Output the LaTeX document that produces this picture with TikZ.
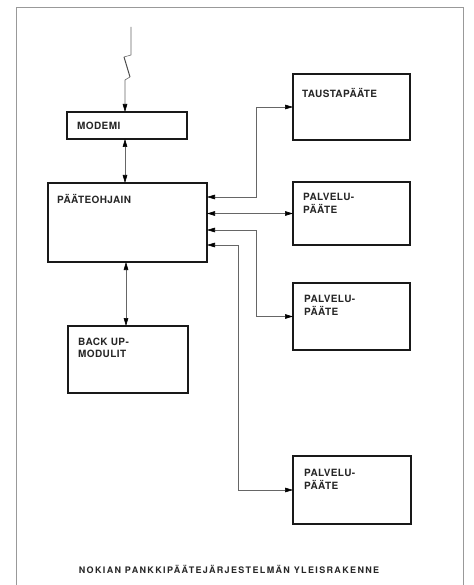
\documentclass[tikz,border=0pt]{standalone}
\usepackage{fontspec}
\setmainfont{TeX Gyre Heros}
\newfontfamily\lblfont{TeX Gyre Heros}[LetterSpace=4]
\newfontfamily\capfont{TeX Gyre Heros}[LetterSpace=15]
\usetikzlibrary{arrows.meta,calc}
\begin{document}
\begin{tikzpicture}[x=1pt,y=-1pt,
  box/.style={draw=black!90,line width=1.5pt,rectangle,anchor=north west,inner sep=0pt,outer sep=0pt},
  lbl/.style={anchor=north west,inner sep=0pt,align=left,font=\lblfont\bfseries\fontsize{10}{12.5}\selectfont,text=black!85},
  conn/.style={draw=black!60,line width=0.6pt},
  tip/.tip={Triangle[length=8pt,width=4.6pt,fill=black,color=black]},
  frame/.style={draw=black!40,line width=0.5pt}]
\useasboundingbox (0,0) rectangle (473,585);
% outer frame
\coordinate (fbl) at (16,585);
\coordinate (ftl) at (16,7);
\coordinate (ftr) at (463,7);
\coordinate (fbr) at (463,585);
\draw[frame] (fbl) -- (ftl) -- (ftr) -- (fbr);
% boxes
\node[box,minimum width=120pt,minimum height=27pt] (modem) at (67,112) {};
\node[box,minimum width=159pt,minimum height=79pt] (ohjain) at (48,183) {};
\node[box,minimum width=120pt,minimum height=67pt] (backup) at (68,326) {};
\node[box,minimum width=117pt,minimum height=66pt] (tausta) at (293,74) {};
\node[box,minimum width=117pt,minimum height=63pt] (palv1) at (293,182) {};
\node[box,minimum width=117pt,minimum height=67pt] (palv2) at (293,283) {};
\node[box,minimum width=118pt,minimum height=68pt] (palv3) at (293,456) {};
% labels
\node[lbl,anchor=west] (tmodem) at (77,125.5) {MODEMI};
\node[lbl] (tohjain) at (57,194.5) {PÄÄTEOHJAIN};
\node[lbl] (tbackup) at (78,337.5) {BACK UP-\\MODULIT};
\node[lbl] (ttausta) at (302,88.5) {TAUSTAPÄÄTE};
\node[lbl] (tpalv1) at (303,193.5) {PALVELU-\\PÄÄTE};
\node[lbl] (tpalv2) at (304,295.5) {PALVELU-\\PÄÄTE};
\node[lbl] (tpalv3) at (304,469.5) {PALVELU-\\PÄÄTE};
\node[anchor=center,inner sep=0pt,font=\capfont\bfseries\fontsize{9}{10}\selectfont,text=black!85] (caption) at (229,569) {NOKIAN PANKKIPÄÄTEJÄRJESTELMÄN YLEISRAKENNE};
% lightning line into modem
\coordinate (l0) at (131,27);
\coordinate (l1) at (131,55);
\coordinate (l2) at (124,57);
\coordinate (l3) at (130,77);
\coordinate (l4) at (125,80);
\draw[conn] (l0) -- (l1) -- (l2);
\draw[draw=black!70,line width=1pt] (l2) -- (l3);
\draw[conn,-tip] (l3) -- (l4) -- (l4 |- modem.north);
% modem <-> ohjain
\coordinate (m1) at (125,0);
\draw[conn,tip-tip] (modem.south -| m1) -- (ohjain.north -| m1);
% ohjain <-> backup
\coordinate (b1) at (126,0);
\draw[conn,tip-tip] (ohjain.south -| b1) -- (backup.north -| b1);
% right side connectors
\coordinate (j1) at (256,197);
\coordinate (j3) at (256,230);
\coordinate (j4) at (238,245);
\draw[conn,tip-tip] (ohjain.east |- j1) -- (j1) |- (tausta.west);
\draw[conn,tip-tip] (ohjain.east |- palv1.west) -- (palv1.west);
\draw[conn,tip-tip] (ohjain.east |- j3) -- (j3) |- (palv2.west);
\draw[conn,tip-tip] (ohjain.east |- j4) -- (j4) |- (palv3.west);
\end{tikzpicture}
\end{document}
